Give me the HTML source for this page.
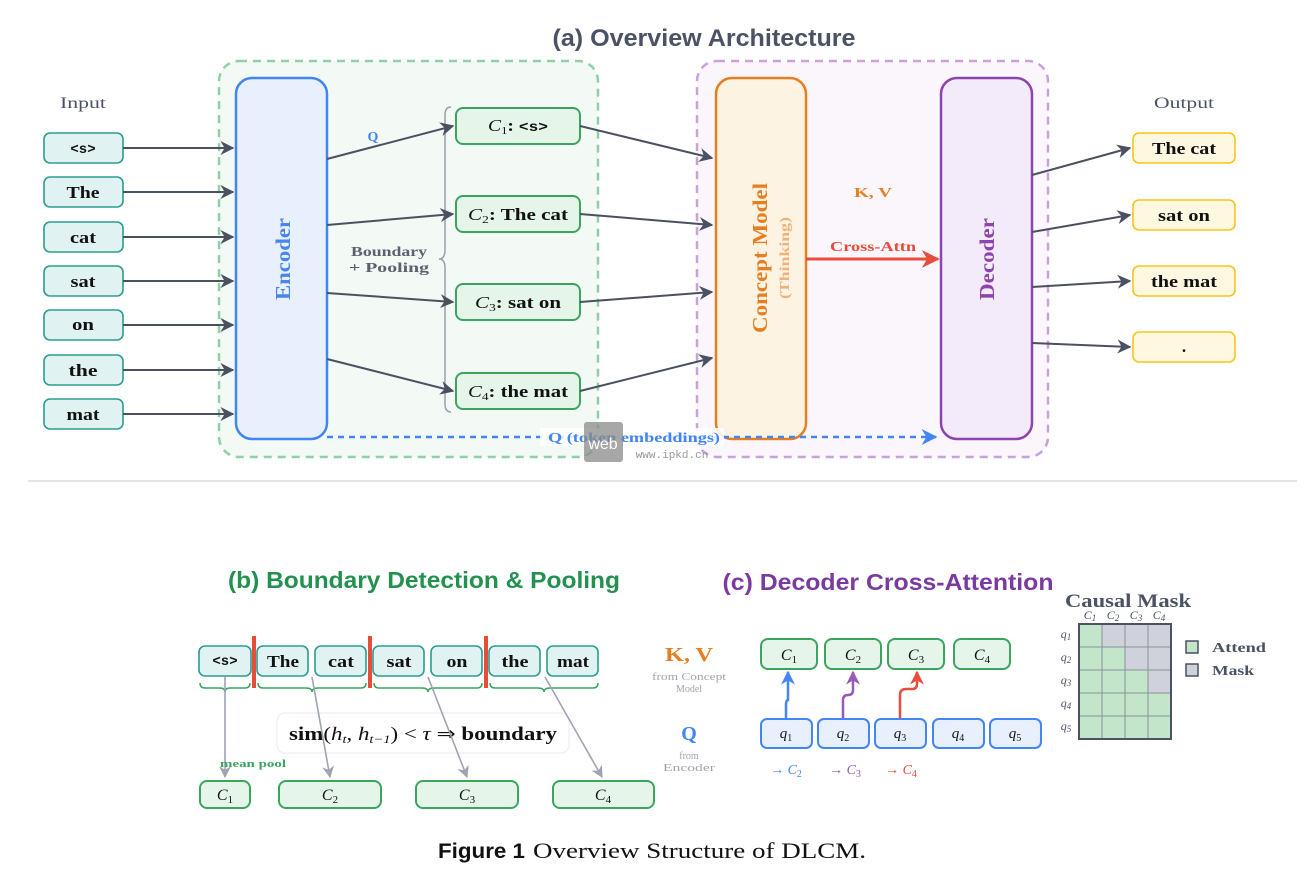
<!DOCTYPE html>
<html><head><meta charset="utf-8"><style>
html,body{margin:0;padding:0;background:#fff;width:1306px;height:887px;overflow:hidden}
svg{display:block}
.s{font-family:"Liberation Serif",serif}
.b{font-weight:bold}
.sans{font-family:"Liberation Sans",sans-serif;font-weight:bold}
</style></head><body>
<svg width="1306" height="887" viewBox="0 0 1306 887" xmlns="http://www.w3.org/2000/svg">
<defs>
<marker id="ag2" viewBox="0 0 10 10" refX="9" refY="5" markerWidth="14" markerHeight="14" orient="auto" markerUnits="userSpaceOnUse"><path d="M0,0 L10,5 L0,10 L3,5 Z" fill="#4a5160"/></marker>
<marker id="ar" viewBox="0 0 10 10" refX="9" refY="5" markerWidth="18" markerHeight="18" orient="auto" markerUnits="userSpaceOnUse"><path d="M0,0 L10,5 L0,10 L3,5 Z" fill="#e74c3c"/></marker>
<marker id="ab" viewBox="0 0 10 10" refX="9" refY="5" markerWidth="16" markerHeight="16" orient="auto" markerUnits="userSpaceOnUse"><path d="M0,0 L10,5 L0,10 L3,5 Z" fill="#4285f4"/></marker>
<marker id="agr" viewBox="0 0 10 10" refX="9" refY="5" markerWidth="12" markerHeight="12" orient="auto" markerUnits="userSpaceOnUse"><path d="M0,0 L10,5 L0,10 L3,5 Z" fill="#a0a4b0"/></marker>
<marker id="mb" viewBox="0 0 10 10" refX="9" refY="5" markerWidth="14" markerHeight="14" orient="auto" markerUnits="userSpaceOnUse"><path d="M0,0 L10,5 L0,10 L3,5 Z" fill="#4285f4"/></marker>
<marker id="mp" viewBox="0 0 10 10" refX="9" refY="5" markerWidth="14" markerHeight="14" orient="auto" markerUnits="userSpaceOnUse"><path d="M0,0 L10,5 L0,10 L3,5 Z" fill="#9b59b6"/></marker>
<marker id="mr" viewBox="0 0 10 10" refX="9" refY="5" markerWidth="14" markerHeight="14" orient="auto" markerUnits="userSpaceOnUse"><path d="M0,0 L10,5 L0,10 L3,5 Z" fill="#e74c3c"/></marker>
</defs>

<text x="704" y="46" text-anchor="middle" class="sans" font-size="24" fill="#4a5263" textLength="303" lengthAdjust="spacingAndGlyphs">(a) Overview Architecture</text>

<rect x="219" y="61" width="379" height="396" rx="20" fill="#f3f9f4" stroke="#8fd1a6" stroke-width="2.5" stroke-dasharray="8,6"/>
<rect x="697" y="61" width="351" height="396" rx="20" fill="#faf6fc" stroke="#c9a2dc" stroke-width="2.5" stroke-dasharray="8,6"/>

<text x="83" y="108" text-anchor="middle" class="s" font-size="16" fill="#4a5263" textLength="46" lengthAdjust="spacingAndGlyphs">Input</text>
<text x="1184" y="108" text-anchor="middle" class="s" font-size="16" fill="#4a5263" textLength="60" lengthAdjust="spacingAndGlyphs">Output</text>

<g class="s b" font-size="17" text-anchor="middle" fill="#111">
<g fill="#e0f2f1" stroke="#2a9d8f" stroke-width="1.6">
<rect x="44" y="133" width="79" height="30" rx="6"/><rect x="44" y="177" width="79" height="30" rx="6"/>
<rect x="44" y="222" width="79" height="30" rx="6"/><rect x="44" y="266" width="79" height="30" rx="6"/>
<rect x="44" y="310" width="79" height="30" rx="6"/><rect x="44" y="355" width="79" height="30" rx="6"/>
<rect x="44" y="399" width="79" height="30" rx="6"/>
</g>
<text x="83" y="153" font-family="Liberation Mono,monospace" font-size="14">&lt;s&gt;</text>
<text x="83" y="198" textLength="33" lengthAdjust="spacingAndGlyphs">The</text><text x="83" y="243" textLength="26" lengthAdjust="spacingAndGlyphs">cat</text><text x="83" y="287" textLength="25" lengthAdjust="spacingAndGlyphs">sat</text>
<text x="83" y="330" textLength="22" lengthAdjust="spacingAndGlyphs">on</text><text x="83" y="376" textLength="29" lengthAdjust="spacingAndGlyphs">the</text><text x="83" y="420" textLength="33" lengthAdjust="spacingAndGlyphs">mat</text>
</g>
<g stroke="#4a5160" stroke-width="2" marker-end="url(#ag2)">
<line x1="123" y1="148" x2="233" y2="148"/><line x1="123" y1="192" x2="233" y2="192"/>
<line x1="123" y1="237" x2="233" y2="237"/><line x1="123" y1="281" x2="233" y2="281"/>
<line x1="123" y1="325" x2="233" y2="325"/><line x1="123" y1="370" x2="233" y2="370"/>
<line x1="123" y1="414" x2="233" y2="414"/>
</g>

<rect x="236" y="78" width="91" height="361" rx="16" fill="#e8f0fe" stroke="#4285f4" stroke-width="2.5"/>
<text transform="translate(290,259) rotate(-90)" text-anchor="middle" class="s b" font-size="21" fill="#4a86e8" textLength="82" lengthAdjust="spacingAndGlyphs">Encoder</text>

<rect x="716" y="78" width="90" height="361" rx="16" fill="#fdf3e3" stroke="#e67e22" stroke-width="2.5"/>
<text transform="translate(767,258) rotate(-90)" text-anchor="middle" class="s b" font-size="21" fill="#e67e22" textLength="150" lengthAdjust="spacingAndGlyphs">Concept Model</text>
<text transform="translate(789,258) rotate(-90)" text-anchor="middle" class="s b" font-size="14" fill="#f0b27a" textLength="82" lengthAdjust="spacingAndGlyphs">(Thinking)</text>

<rect x="941" y="78" width="91" height="361" rx="16" fill="#f3eafa" stroke="#8e44ad" stroke-width="2.5"/>
<text transform="translate(994,259) rotate(-90)" text-anchor="middle" class="s b" font-size="21" fill="#8e44ad" textLength="82" lengthAdjust="spacingAndGlyphs">Decoder</text>

<path d="M451,107 Q445,107 445,115 L445,250 Q445,259 439,259 Q445,259 445,268 L445,404 Q445,412 451,412" fill="none" stroke="#9aa0aa" stroke-width="1.5"/>
<g fill="#e6f5ea" stroke="#3aa55d" stroke-width="2">
<rect x="456" y="108" width="124" height="36" rx="7"/><rect x="456" y="196" width="124" height="36" rx="7"/>
<rect x="456" y="284" width="124" height="36" rx="7"/><rect x="456" y="373" width="124" height="36" rx="7"/>
</g>
<g class="s" font-size="17" text-anchor="middle" fill="#111">
<text x="518" y="131" textLength="60" lengthAdjust="spacingAndGlyphs"><tspan font-style="italic">C</tspan><tspan font-size="11" dy="3">1</tspan><tspan dy="-3" font-weight="bold">: </tspan><tspan font-family="Liberation Mono,monospace" font-weight="bold" font-size="14">&lt;s&gt;</tspan></text>
<text x="518" y="220" textLength="100" lengthAdjust="spacingAndGlyphs"><tspan font-style="italic">C</tspan><tspan font-size="11" dy="3">2</tspan><tspan dy="-3" font-weight="bold">: The cat</tspan></text>
<text x="518" y="308" textLength="86" lengthAdjust="spacingAndGlyphs"><tspan font-style="italic">C</tspan><tspan font-size="11" dy="3">3</tspan><tspan dy="-3" font-weight="bold">: sat on</tspan></text>
<text x="518" y="397" textLength="100" lengthAdjust="spacingAndGlyphs"><tspan font-style="italic">C</tspan><tspan font-size="11" dy="3">4</tspan><tspan dy="-3" font-weight="bold">: the mat</tspan></text>
</g>
<text x="389" y="256" text-anchor="middle" class="s b" font-size="14" fill="#5a6270" textLength="76" lengthAdjust="spacingAndGlyphs">Boundary</text>
<text x="389" y="272" text-anchor="middle" class="s b" font-size="14" fill="#5a6270" textLength="80" lengthAdjust="spacingAndGlyphs">+ Pooling</text>
<text x="373" y="141" text-anchor="middle" class="s b" font-size="14" fill="#4285f4">Q</text>

<g stroke="#4a5160" stroke-width="2" marker-end="url(#ag2)">
<line x1="327" y1="159" x2="453" y2="126"/><line x1="327" y1="225" x2="453" y2="214"/>
<line x1="327" y1="293" x2="453" y2="302"/><line x1="327" y1="359" x2="453" y2="391"/>
<line x1="580" y1="126" x2="712" y2="158"/><line x1="580" y1="214" x2="712" y2="225"/>
<line x1="580" y1="302" x2="712" y2="292"/><line x1="580" y1="391" x2="712" y2="358"/>
<line x1="1032" y1="175" x2="1130" y2="148"/><line x1="1032" y1="232" x2="1130" y2="215"/>
<line x1="1032" y1="287" x2="1130" y2="281"/><line x1="1032" y1="343" x2="1130" y2="347"/>
</g>

<text x="873" y="197" text-anchor="middle" class="s b" font-size="14" fill="#e67e22" textLength="38" lengthAdjust="spacingAndGlyphs">K, V</text>
<text x="873" y="251" text-anchor="middle" class="s b" font-size="14" fill="#e74c3c" textLength="86" lengthAdjust="spacingAndGlyphs">Cross-Attn</text>
<line x1="806" y1="259" x2="938" y2="259" stroke="#e74c3c" stroke-width="3" marker-end="url(#ar)"/>

<g fill="#fff8e1" stroke="#f5c518" stroke-width="1.6">
<rect x="1133" y="133" width="102" height="30" rx="6"/><rect x="1133" y="200" width="102" height="30" rx="6"/>
<rect x="1133" y="266" width="102" height="30" rx="6"/><rect x="1133" y="332" width="102" height="30" rx="6"/>
</g>
<g class="s b" font-size="17" text-anchor="middle" fill="#111">
<text x="1184" y="154" textLength="64" lengthAdjust="spacingAndGlyphs">The cat</text><text x="1184" y="221" textLength="52" lengthAdjust="spacingAndGlyphs">sat on</text><text x="1184" y="287" textLength="66" lengthAdjust="spacingAndGlyphs">the mat</text><text x="1184" y="352">.</text>
</g>

<line x1="327" y1="437" x2="936" y2="437" stroke="#4285f4" stroke-width="2.5" stroke-dasharray="6,5" marker-end="url(#ab)"/>
<rect x="540" y="428" width="184" height="18" fill="#fff" opacity="0.85"/>
<text x="634" y="442" text-anchor="middle" class="s b" font-size="14" fill="#4285f4" textLength="172" lengthAdjust="spacingAndGlyphs">Q (token embeddings)</text>
<rect x="584" y="422" width="39" height="40" rx="3" fill="#8a8a8a" opacity="0.75"/>
<text x="603" y="449" text-anchor="middle" font-family="Liberation Sans,sans-serif" font-size="16" fill="#fff">web</text>
<text x="672" y="458" text-anchor="middle" font-family="Liberation Mono,monospace" font-size="11" fill="#999">www.ipkd.cn</text>

<line x1="28" y1="481" x2="1297" y2="481" stroke="#e2e4e8" stroke-width="2"/>

<!-- (b) -->
<text x="424" y="588" text-anchor="middle" class="sans" font-size="23" fill="#23914f" textLength="392" lengthAdjust="spacingAndGlyphs">(b) Boundary Detection &amp; Pooling</text>
<g fill="#e0f2f1" stroke="#2a9d8f" stroke-width="1.6">
<rect x="199" y="646" width="52" height="30" rx="6"/><rect x="257" y="646" width="51" height="30" rx="6"/>
<rect x="315" y="646" width="51" height="30" rx="6"/><rect x="373" y="646" width="51" height="30" rx="6"/>
<rect x="431" y="646" width="51" height="30" rx="6"/><rect x="489" y="646" width="51" height="30" rx="6"/>
<rect x="547" y="646" width="51" height="30" rx="6"/>
</g>
<g class="s b" font-size="17" text-anchor="middle" fill="#111">
<text x="225" y="665" font-family="Liberation Mono,monospace" font-size="14">&lt;s&gt;</text>
<text x="283" y="667" textLength="32" lengthAdjust="spacingAndGlyphs">The</text><text x="341" y="667" textLength="26" lengthAdjust="spacingAndGlyphs">cat</text><text x="399" y="667" textLength="25" lengthAdjust="spacingAndGlyphs">sat</text>
<text x="457" y="667" textLength="21" lengthAdjust="spacingAndGlyphs">on</text><text x="515" y="667" textLength="27" lengthAdjust="spacingAndGlyphs">the</text><text x="573" y="667" textLength="32" lengthAdjust="spacingAndGlyphs">mat</text>
</g>
<g fill="#e74c3c"><rect x="252" y="636" width="4" height="52"/><rect x="368" y="636" width="4" height="52"/><rect x="484" y="636" width="4" height="52"/></g>
<g fill="none" stroke="#3aa55d" stroke-width="1.5">
<path d="M200,683 Q200,688 205,688 L220,688 Q225,688 225,692 Q225,688 230,688 L245,688 Q250,688 250,683"/>
<path d="M258,683 Q258,688 263,688 L306,688 Q312,688 312,692 Q312,688 318,688 L361,688 Q366,688 366,683"/>
<path d="M374,683 Q374,688 379,688 L422,688 Q428,688 428,692 Q428,688 434,688 L477,688 Q482,688 482,683"/>
<path d="M490,683 Q490,688 495,688 L538,688 Q544,688 544,692 Q544,688 550,688 L593,688 Q598,688 598,683"/>
</g>
<rect x="277" y="713" width="292" height="40" rx="8" fill="#fff" stroke="#eceef0" stroke-width="1.2"/>
<text x="423" y="740" text-anchor="middle" class="s" font-size="19" fill="#111" textLength="268" lengthAdjust="spacingAndGlyphs"><tspan font-weight="bold">sim</tspan>(<tspan font-style="italic">h</tspan><tspan font-size="12" font-style="italic" dy="3">t</tspan><tspan dy="-3">, </tspan><tspan font-style="italic">h</tspan><tspan font-size="12" font-style="italic" dy="3">t−1</tspan><tspan dy="-3">) &lt; </tspan><tspan font-style="italic">τ</tspan> ⇒ <tspan font-weight="bold">boundary</tspan></text>
<g stroke="#a0a4b0" stroke-width="1.6" marker-end="url(#agr)">
<line x1="225" y1="677" x2="225" y2="777"/><line x1="312" y1="677" x2="330" y2="777"/>
<line x1="428" y1="677" x2="467" y2="777"/><line x1="545" y1="677" x2="602" y2="777"/>
</g>
<text x="253" y="767" text-anchor="middle" class="s b" font-size="10" fill="#3aa55d" textLength="66" lengthAdjust="spacingAndGlyphs">mean pool</text>
<g fill="#e6f5ea" stroke="#3aa55d" stroke-width="2">
<rect x="200" y="781" width="50" height="27" rx="7"/><rect x="279" y="781" width="102" height="27" rx="7"/>
<rect x="416" y="781" width="102" height="27" rx="7"/><rect x="553" y="781" width="101" height="27" rx="7"/>
</g>
<g class="s" font-size="16" font-style="italic" text-anchor="middle" fill="#111">
<text x="225" y="800">C<tspan font-size="11" font-style="normal" dy="3">1</tspan></text>
<text x="330" y="800">C<tspan font-size="11" font-style="normal" dy="3">2</tspan></text>
<text x="467" y="800">C<tspan font-size="11" font-style="normal" dy="3">3</tspan></text>
<text x="603" y="800">C<tspan font-size="11" font-style="normal" dy="3">4</tspan></text>
</g>

<!-- (c) -->
<text x="888" y="590" text-anchor="middle" class="sans" font-size="23" fill="#7b3aa0" textLength="331" lengthAdjust="spacingAndGlyphs">(c) Decoder Cross-Attention</text>
<text x="689" y="661" text-anchor="middle" class="s b" font-size="20" fill="#e67e22" textLength="48" lengthAdjust="spacingAndGlyphs">K, V</text>
<text x="689" y="680" text-anchor="middle" class="s" font-size="10" fill="#a0a4b0" textLength="74" lengthAdjust="spacingAndGlyphs">from Concept</text>
<text x="689" y="692" text-anchor="middle" class="s" font-size="10" fill="#a0a4b0">Model</text>
<text x="689" y="740" text-anchor="middle" class="s b" font-size="20" fill="#4285f4">Q</text>
<text x="689" y="759" text-anchor="middle" class="s" font-size="10" fill="#a0a4b0">from</text>
<text x="689" y="771" text-anchor="middle" class="s" font-size="10" fill="#a0a4b0" textLength="52" lengthAdjust="spacingAndGlyphs">Encoder</text>

<g fill="#e6f5ea" stroke="#3aa55d" stroke-width="2">
<rect x="761" y="639" width="56" height="30" rx="7"/><rect x="825" y="639" width="56" height="30" rx="7"/>
<rect x="888" y="639" width="56" height="30" rx="7"/><rect x="954" y="639" width="56" height="30" rx="7"/>
</g>
<g class="s" font-size="16" font-style="italic" text-anchor="middle" fill="#111">
<text x="789" y="660">C<tspan font-size="11" font-style="normal" dy="3">1</tspan></text>
<text x="853" y="660">C<tspan font-size="11" font-style="normal" dy="3">2</tspan></text>
<text x="916" y="660">C<tspan font-size="11" font-style="normal" dy="3">3</tspan></text>
<text x="982" y="660">C<tspan font-size="11" font-style="normal" dy="3">4</tspan></text>
</g>
<g fill="#e8f0fe" stroke="#4285f4" stroke-width="2">
<rect x="761" y="719" width="51" height="29" rx="6"/><rect x="818" y="719" width="51" height="29" rx="6"/>
<rect x="875" y="719" width="51" height="29" rx="6"/><rect x="933" y="719" width="51" height="29" rx="6"/>
<rect x="990" y="719" width="51" height="29" rx="6"/>
</g>
<g class="s" font-size="15" font-style="italic" text-anchor="middle" fill="#111">
<text x="786" y="738">q<tspan font-size="10" font-style="normal" dy="3">1</tspan></text>
<text x="843" y="738">q<tspan font-size="10" font-style="normal" dy="3">2</tspan></text>
<text x="900" y="738">q<tspan font-size="10" font-style="normal" dy="3">3</tspan></text>
<text x="958" y="738">q<tspan font-size="10" font-style="normal" dy="3">4</tspan></text>
<text x="1015" y="738">q<tspan font-size="10" font-style="normal" dy="3">5</tspan></text>
</g>
<path d="M786,718 L786,705 Q786,700 788,700 L788,672" fill="none" stroke="#4285f4" stroke-width="2.5" marker-end="url(#mb)"/>
<path d="M843,718 L843,700 Q843,695 848,695 Q853,695 853,690 L853,672" fill="none" stroke="#9b59b6" stroke-width="2.5" marker-end="url(#mp)"/>
<path d="M900,718 L900,695 Q900,689 906,689 L912,689 Q917,689 917,684 L917,672" fill="none" stroke="#e74c3c" stroke-width="2.5" marker-end="url(#mr)"/>
<g class="s" font-size="14" font-style="italic" text-anchor="middle">
<text x="786" y="774" fill="#4285f4">→ C<tspan font-size="10" font-style="normal" dy="3">2</tspan></text>
<text x="845" y="774" fill="#9b59b6">→ C<tspan font-size="10" font-style="normal" dy="3">3</tspan></text>
<text x="901" y="774" fill="#e74c3c">→ C<tspan font-size="10" font-style="normal" dy="3">4</tspan></text>
</g>

<text x="1128" y="607" text-anchor="middle" class="s b" font-size="19" fill="#4a5263" textLength="126" lengthAdjust="spacingAndGlyphs">Causal Mask</text>
<g class="s" font-size="12" font-style="italic" text-anchor="middle" fill="#4a5263">
<text x="1090" y="619">C<tspan font-size="9" dy="2">1</tspan></text><text x="1113" y="619">C<tspan font-size="9" dy="2">2</tspan></text>
<text x="1136" y="619">C<tspan font-size="9" dy="2">3</tspan></text><text x="1159" y="619">C<tspan font-size="9" dy="2">4</tspan></text>
<text x="1066" y="638">q<tspan font-size="9" dy="2">1</tspan></text><text x="1066" y="661">q<tspan font-size="9" dy="2">2</tspan></text>
<text x="1066" y="684">q<tspan font-size="9" dy="2">3</tspan></text><text x="1066" y="707">q<tspan font-size="9" dy="2">4</tspan></text>
<text x="1066" y="730">q<tspan font-size="9" dy="2">5</tspan></text>
</g>
<g stroke="#8a9099" stroke-width="1">
<rect x="1079" y="624" width="23" height="23" fill="#c3e6cb"/><rect x="1102" y="624" width="23" height="23" fill="#cfd2da"/><rect x="1125" y="624" width="23" height="23" fill="#cfd2da"/><rect x="1148" y="624" width="23" height="23" fill="#cfd2da"/>
<rect x="1079" y="647" width="23" height="23" fill="#c3e6cb"/><rect x="1102" y="647" width="23" height="23" fill="#c3e6cb"/><rect x="1125" y="647" width="23" height="23" fill="#cfd2da"/><rect x="1148" y="647" width="23" height="23" fill="#cfd2da"/>
<rect x="1079" y="670" width="23" height="23" fill="#c3e6cb"/><rect x="1102" y="670" width="23" height="23" fill="#c3e6cb"/><rect x="1125" y="670" width="23" height="23" fill="#c3e6cb"/><rect x="1148" y="670" width="23" height="23" fill="#cfd2da"/>
<rect x="1079" y="693" width="23" height="23" fill="#c3e6cb"/><rect x="1102" y="693" width="23" height="23" fill="#c3e6cb"/><rect x="1125" y="693" width="23" height="23" fill="#c3e6cb"/><rect x="1148" y="693" width="23" height="23" fill="#c3e6cb"/>
<rect x="1079" y="716" width="23" height="23" fill="#c3e6cb"/><rect x="1102" y="716" width="23" height="23" fill="#c3e6cb"/><rect x="1125" y="716" width="23" height="23" fill="#c3e6cb"/><rect x="1148" y="716" width="23" height="23" fill="#c3e6cb"/>
</g>
<rect x="1079" y="624" width="92" height="115" fill="none" stroke="#4a5263" stroke-width="2"/>
<rect x="1186" y="641" width="12" height="12" fill="#c3e6cb" stroke="#4a5263" stroke-width="1.5"/>
<rect x="1186" y="664" width="12" height="12" fill="#cfd2da" stroke="#4a5263" stroke-width="1.5"/>
<text x="1212" y="652" class="s b" font-size="14" fill="#4a5263" textLength="54" lengthAdjust="spacingAndGlyphs">Attend</text>
<text x="1212" y="675" class="s b" font-size="14" fill="#4a5263" textLength="42" lengthAdjust="spacingAndGlyphs">Mask</text>

<text x="438" y="858" class="sans" font-size="21" fill="#111" textLength="87" lengthAdjust="spacingAndGlyphs">Figure 1</text>
<text x="533" y="858" class="s" font-size="22" fill="#111" textLength="333" lengthAdjust="spacingAndGlyphs">Overview Structure of DLCM.</text>
</svg>
</body></html>
